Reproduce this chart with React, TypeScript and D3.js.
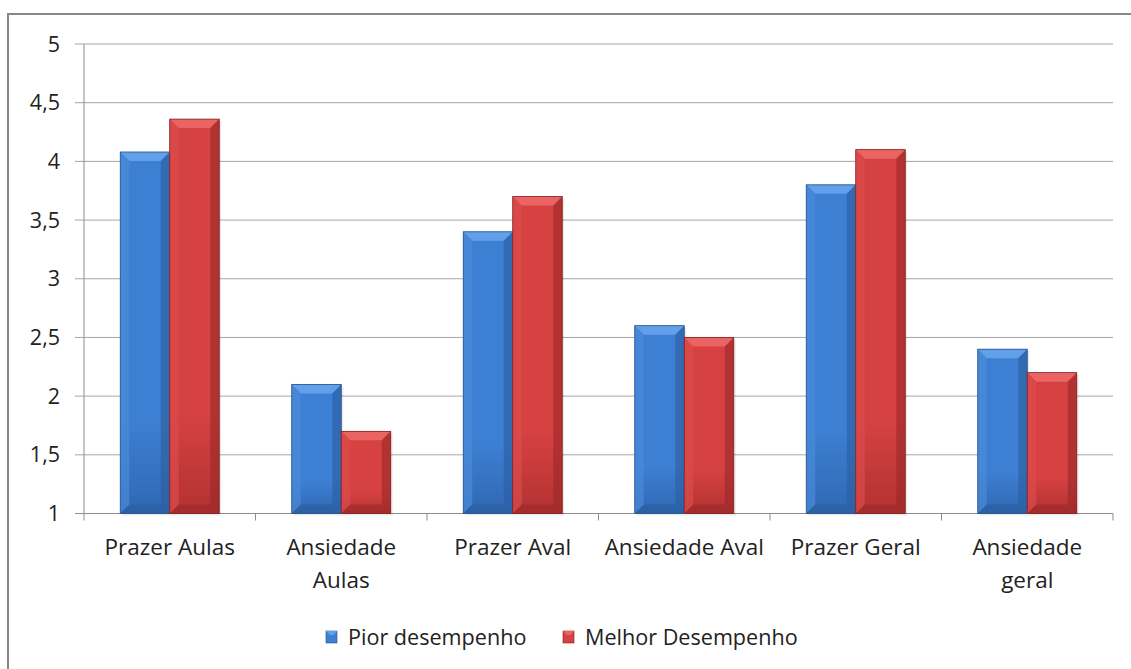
import React from "react";
import * as d3 from "d3";

const categories = ["Prazer Aulas", "Ansiedade Aulas", "Prazer Aval", "Ansiedade Aval", "Prazer Geral", "Ansiedade geral"];
const categoryLines = [["Prazer Aulas"], ["Ansiedade", "Aulas"], ["Prazer Aval"], ["Ansiedade Aval"], ["Prazer Geral"], ["Ansiedade", "geral"]];
const seriesNames = ["Pior desempenho", "Melhor Desempenho"];
const piorValues = [4.08, 2.1, 3.4, 2.6, 3.8, 2.4];
const melhorValues = [4.36, 1.7, 3.7, 2.5, 4.1, 2.2];
const yTicks = [1, 1.5, 2, 2.5, 3, 3.5, 4, 4.5, 5];
const yTickLabels = ["1", "1,5", "2", "2,5", "3", "3,5", "4", "4,5", "5"];

const palettes = [
  { face: "#3d7fd2", faceDark: "#2f68b3", top: "#62a0ea", left: "#4a8ad9", right: "#2b5e9e", bottom: "#2a5a98", stroke: "#25528c" },
  { face: "#d64141", faceDark: "#b33232", top: "#eb6464", left: "#dc4c4c", right: "#9a2828", bottom: "#952626", stroke: "#842020" },
];

const W = 1131, H = 669;
const left = 84, right = 1113, top = 44, bottom = 513.5;
const font = "'Open Sans', 'Noto Sans', sans-serif";

function Bar({ x, y, w, h, p, id }: any) {
  const b = Math.min(9, h / 2, w / 2);
  const x1 = x + w, y1 = y + h;
  return (
    <g>
      <rect x={x + 2} y={y + 2} width={w} height={h} fill="#000" opacity={0.08} />
      <rect x={x} y={y} width={w} height={h} fill={`url(#face${id})`} />
      <polygon points={`${x},${y} ${x1},${y} ${x1 - b},${y + b} ${x + b},${y + b}`} fill={p.top} />
      <polygon points={`${x},${y} ${x + b},${y + b} ${x + b},${y1 - b} ${x},${y1}`} fill={p.left} opacity={0.7} />
      <polygon points={`${x1},${y} ${x1 - b},${y + b} ${x1 - b},${y1 - b} ${x1},${y1}`} fill={p.right} opacity={0.6} />
      <polygon points={`${x},${y1} ${x + b},${y1 - b} ${x1 - b},${y1 - b} ${x1},${y1}`} fill={p.bottom} opacity={0.5} />
      <rect x={x} y={y} width={w} height={h} fill="none" stroke={p.stroke} strokeWidth={0.8} />
    </g>
  );
}

export default function App() {
  const yScale = d3.scaleLinear().domain([1, 5]).range([bottom, top]);
  const xScale = d3.scaleBand<string>().domain(categories).range([left, right]).padding(0);
  const bw = xScale.bandwidth();
  const barW = 49.5;
  const groupOffset = (bw - 2 * barW) / 2;
  const series = [piorValues, melhorValues];
  const boundaries = categories.map((c) => xScale(c)!).concat([right]);

  return (
    <svg width={W} height={H} style={{ position: "absolute", left: 0, top: 0, background: "#fff" }}>
      <defs>
        {palettes.map((p, i) => (
          <linearGradient key={i} id={`face${i}`} x1="0" y1="0" x2="0" y2="1">
            <stop offset="0" stopColor={p.face} />
            <stop offset="0.75" stopColor={p.face} />
            <stop offset="1" stopColor={p.faceDark} />
          </linearGradient>
        ))}
      </defs>
      <rect x={0} y={0} width={W} height={H} fill="#fff" />
      <rect x={8} y={14} width={W + 20} height={H + 20} fill="none" stroke="#878787" strokeWidth={2} />
      {yTicks.map((t, i) => (
        <g key={t}>
          <line x1={75} x2={right} y1={yScale(t)} y2={yScale(t)} stroke={i === 0 ? "#8c8c8c" : "#a6a6a6"} strokeWidth={1} />
          <text x={60} y={yScale(t)} dy="0.35em" textAnchor="end" fontFamily={font} fontSize={21.5} fill="#222">
            {yTickLabels[i]}
          </text>
        </g>
      ))}
      <line x1={left} x2={left} y1={top} y2={bottom} stroke="#8c8c8c" strokeWidth={1} />
      {boundaries.map((bx, i) => (
        <line key={i} x1={bx} x2={bx} y1={bottom} y2={bottom + 7} stroke="#8c8c8c" strokeWidth={1} />
      ))}
      {categories.map((c, ci) =>
        series.map((vals, si) => {
          const x = xScale(c)! + groupOffset + si * barW;
          const y = yScale(vals[ci]);
          return <Bar key={c + si} x={x} y={y} w={barW} h={bottom - y} p={palettes[si]} id={si} />;
        })
      )}
      {categories.map((c, ci) => (
        <text key={c} x={xScale(c)! + bw / 2} y={555} textAnchor="middle" fontFamily={font} fontSize={22.5} fill="#222">
          {categoryLines[ci].map((line, li) => (
            <tspan key={li} x={xScale(c)! + bw / 2} dy={li === 0 ? 0 : 33}>
              {line}
            </tspan>
          ))}
        </text>
      ))}
      {seriesNames.map((s, i) => {
        const lx = [326, 563][i];
        const p = palettes[i];
        return (
          <g key={s}>
            <rect x={lx} y={631} width={11} height={12} fill={p.face} stroke={p.stroke} strokeWidth={0.6} />
            <polygon points={`${lx},631 ${lx + 11},631 ${lx + 7.5},635 ${lx + 3.5},635`} fill={p.top} />
            <text x={lx + 22} y={637.5} dy="0.35em" fontFamily={font} fontSize={21.6} fill="#222">
              {s}
            </text>
          </g>
        );
      })}
    </svg>
  );
}
